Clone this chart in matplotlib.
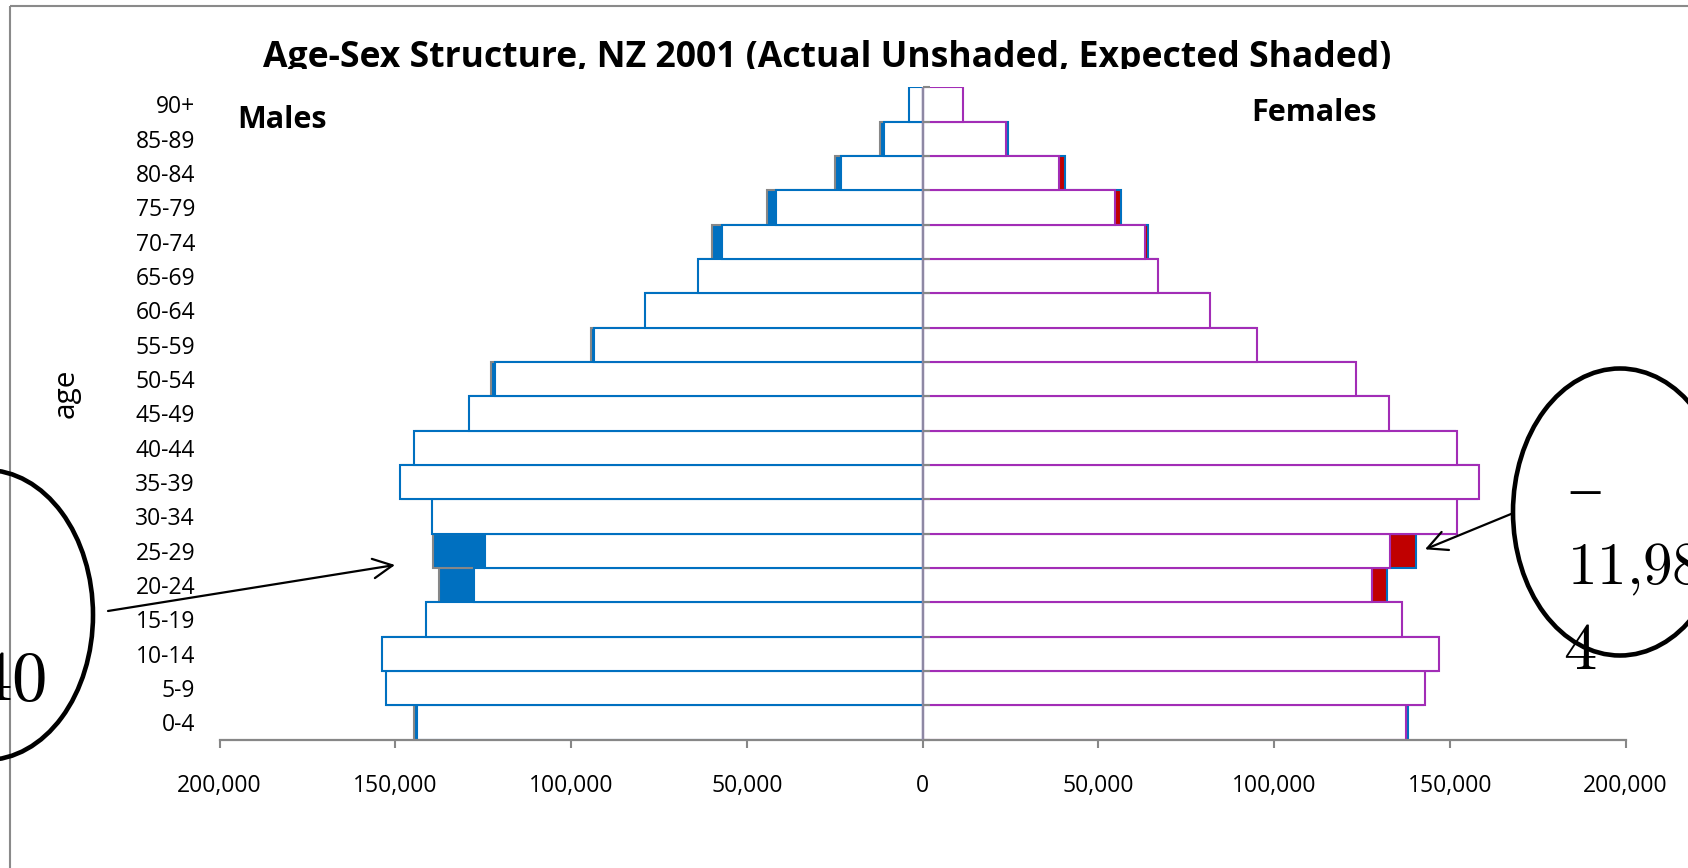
import numpy as np
import matplotlib
matplotlib.use("Agg")
import matplotlib.pyplot as plt
from matplotlib.patches import Ellipse, Rectangle, FancyArrowPatch, ArrowStyle
from matplotlib.transforms import Affine2D, Bbox
from matplotlib.ticker import FuncFormatter, FixedLocator

# ---- data -------------------------------------------------------------
age_groups = ['0-4', '5-9', '10-14', '15-19', '20-24', '25-29', '30-34',
              '35-39', '40-44', '45-49', '50-54', '55-59', '60-64', '65-69',
              '70-74', '75-79', '80-84', '85-89', '90+']

males_actual = [143800, 152800, 153800, 141300, 127700, 124400, 139700,
                148700, 144700, 129100, 121700, 93600, 79000, 63900,
                57000, 41800, 23300, 11100, 3800]
males_expected = [144600, 152300, 153200, 140800, 137500, 139200, 139100,
                  148100, 144100, 128600, 122900, 94200, 78500, 63400,
                  59900, 44200, 25000, 12100, 3500]

females_actual = [137500, 143000, 146900, 136300, 127800, 133000, 151900,
                  158300, 151900, 132700, 123300, 95000, 81700, 67100,
                  63300, 54700, 38900, 23700, 11500]
females_expected = [138000, 142500, 146400, 135800, 132200, 140300, 151400,
                    157800, 151400, 132200, 122800, 94500, 81200, 66600,
                    64200, 56400, 40600, 24200, 11000]

x_ticks = [-200000, -150000, -100000, -50000, 0, 50000, 100000, 150000, 200000]

title_text = "Age-Sex Structure, NZ 2001 (Actual Unshaded, Expected Shaded)"

# ---- styling ----------------------------------------------------------
W, H, DPI = 1688, 868, 100
plt.rcParams['font.family'] = ['Open Sans', 'DejaVu Sans']

BLUE = '#0070C0'
PURPLE = '#A22DB6'
RED = '#C00000'
GREY = '#878787'
CENTER = '#8E88A4'
EDGE_LW = 1.5

fig = plt.figure(figsize=(W / DPI, H / DPI), dpi=DPI)
fig.patch.set_facecolor('white')

# top-left pixel coordinates -> figure transform
pix = Affine2D().scale(1.0 / W, -1.0 / H).translate(0, 1) + fig.transFigure

# outer chart frame (runs off the right and bottom edges)
fig.patches.append(Rectangle((10, 6), 1800, 1000, transform=pix, fill=False,
                             edgecolor='#8a8a8a', linewidth=1.5))

left, right, top, bottom = 219.6, 1625.6, 87.2, 739.6
ax = fig.add_axes([left / W, 1 - bottom / H, (right - left) / W, (bottom - top) / H])
ax.set_facecolor('none')

y = np.arange(len(age_groups))
m_act = -np.asarray(males_actual, dtype=float)
m_exp = -np.asarray(males_expected, dtype=float)
f_act = np.asarray(females_actual, dtype=float)
f_exp = np.asarray(females_expected, dtype=float)

# expected populations (shaded) behind, actual (unshaded) on top
ax.barh(y, m_exp, height=1.0, color=BLUE, edgecolor=GREY, linewidth=EDGE_LW, zorder=1.0)
ax.barh(y, f_exp, height=1.0, color=RED, edgecolor=BLUE, linewidth=EDGE_LW, zorder=1.0)
ax.barh(y, m_act, height=1.0, color='white', edgecolor=BLUE, linewidth=EDGE_LW, zorder=1.2)
ax.barh(y, f_act, height=1.0, color='white', edgecolor=PURPLE, linewidth=EDGE_LW, zorder=1.2)

ax.set_xlim(-200000, 200000)
ax.set_ylim(-0.5, len(age_groups) - 0.5)

for s in ('left', 'top', 'right'):
    ax.spines[s].set_visible(False)
ax.spines['bottom'].set_color(GREY)
ax.spines['bottom'].set_linewidth(1.6)
ax.spines['bottom'].set_zorder(3)

ax.xaxis.set_major_locator(FixedLocator(x_ticks))
ax.xaxis.set_major_formatter(FuncFormatter(lambda v, p: f"{abs(int(round(v))):,}"))
ax.tick_params(axis='x', length=5.8, width=1.5, color=GREY, direction='out',
               pad=19, labelsize=16.5, labelcolor='black')

ax.set_yticks(y)
ax.set_yticklabels(age_groups)
ax.tick_params(axis='y', length=0, pad=17.7, labelsize=16.5, labelcolor='black')

# vertical axis through zero with category boundary ticks
sec = ax.secondary_yaxis(0.5)
sec.set_yticks(np.arange(-0.5, len(age_groups), 1.0))
sec.tick_params(axis='y', length=5, width=1.5, color=GREY, direction='out',
                labelleft=False, labelright=False)
sec.spines['right'].set_visible(False)
sec.spines['left'].set_color(CENTER)
sec.spines['left'].set_linewidth(1.7)
sec.set_zorder(5)
ax.axvline(0, color=CENTER, linewidth=1.7, zorder=4)

# ---- text -------------------------------------------------------------
t = fig.text(827.5 / W, 1 - 67.3 / H, title_text, ha='center', va='baseline',
             fontsize=22, fontweight='bold', color='black')
fig.canvas.draw()
bw = t.get_window_extent().width
t.set_fontsize(22 * 1125.0 / bw)
t.set_clip_box(Bbox.from_extents(0, H - 69, W, H))
t.set_clip_on(True)

fig.text(237 / W, 1 - 128 / H, 'Males', ha='left', va='baseline',
         fontsize=22, fontweight='bold', color='black')
fig.text(1251 / W, 1 - 120.7 / H, 'Females', ha='left', va='baseline',
         fontsize=22, fontweight='bold', color='black')
fig.text(66 / W, 1 - 393 / H, 'age', rotation=90, ha='center', va='center',
         fontsize=21.5, color='black')

# ---- call-outs --------------------------------------------------------
for (cx, cy, w, h) in [(1620, 512, 214, 287), (-14, 615, 214, 290)]:
    fig.patches.append(Ellipse((cx, cy), w, h, transform=pix, fill=False,
                               edgecolor='black', linewidth=3.3))

arrow_style = ArrowStyle('->', head_length=0.7, head_width=0.35)
for (p0, p1) in [((108, 611), (395, 565)), ((1512.7, 513.3), (1425, 549.3))]:
    fig.patches.append(FancyArrowPatch(p0, p1, transform=pix, arrowstyle=arrow_style,
                                       mutation_scale=20, linewidth=1.6,
                                       color='black', shrinkA=0, shrinkB=0))

fig.text(1570 / W, 1 - 506 / H, '\u2013', ha='left', va='baseline',
         fontsize=42, family='Liberation Serif', color='black')
fig.text(1567 / W, 1 - 584 / H, r'$11{,}98$', ha='left', va='baseline',
         fontsize=42.5, math_fontfamily='cm', color='black')
fig.text(1563 / W, 1 - 669 / H, r'$4$', ha='left', va='baseline',
         fontsize=48, math_fontfamily='cm', color='black')
fig.text(45.5 / W, 1 - 700 / H, r'$40$', ha='right', va='baseline',
         fontsize=51, math_fontfamily='cm', color='black')

fig.savefig('out.png', dpi=DPI, facecolor='white')
